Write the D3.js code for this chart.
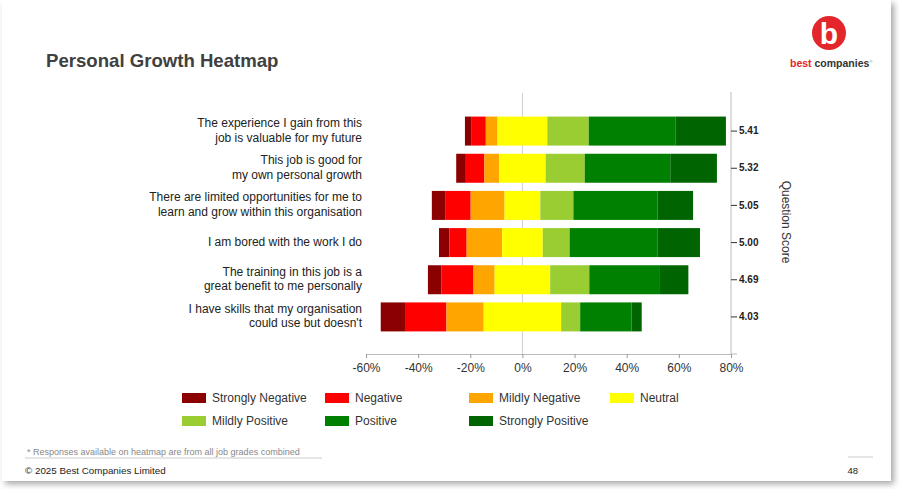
<!DOCTYPE html>
<html>
<head>
<meta charset="utf-8">
<script src="https://cdn.jsdelivr.net/npm/d3@7"></script>
<style>
  body { margin: 0; background: #fff; font-family: "Liberation Sans", Arial, sans-serif; }
  svg text { font-family: "Liberation Sans", Arial, sans-serif; }
</style>
</head>
<body>
<div id="chart"></div>
<script>
// chart data
var questions = [
  ["The experience I gain from this", "job is valuable for my future"],
  ["This job is good for", "my own personal growth"],
  ["There are limited opportunities for me to", "learn and grow within this organisation"],
  ["I am bored with the work I do"],
  ["The training in this job is a", "great benefit to me personally"],
  ["I have skills that my organisation", "could use but doesn't"]
];
var scores = ["5.41", "5.32", "5.05", "5.00", "4.69", "4.03"];
var categories = ["Strongly Negative", "Negative", "Mildly Negative", "Neutral",
                  "Mildly Positive", "Positive", "Strongly Positive"];
var colors = ["#8b0000", "#ff0000", "#ffa500", "#ffff00", "#9acd32", "#008000", "#006400"];

var stronglyNegative = [2.6, 3.7, 5.1, 4.0, 5.1, 9.3];
var negative         = [5.4, 7.1, 9.8, 6.6, 12.4, 15.9];
var mildlyNegative   = [4.5, 5.7, 13.0, 13.6, 8.1, 14.3];
var neutral          = [19.1, 17.8, 13.7, 15.6, 21.3, 29.7];
var mildlyPositive   = [15.9, 15.0, 12.7, 10.3, 15.0, 7.3];
var positive         = [33.2, 32.8, 32.3, 33.8, 27.1, 19.7];
var stronglyPositive = [19.4, 17.9, 13.6, 16.2, 10.9, 3.9];

var xTicks = [-60, -40, -20, 0, 20, 40, 60, 80];

var series = [stronglyNegative, negative, mildlyNegative, neutral,
              mildlyPositive, positive, stronglyPositive];

var svgWidth = 903, svgHeight = 489;

var svg = d3.select('#chart')
  .append('svg')
  .attr('width', svgWidth)
  .attr('height', svgHeight);

// slide background with shadow
var defs = svg.append('defs');
var f = defs.append('filter').attr('id', 'shadow')
  .attr('x', '-5%').attr('y', '-5%').attr('width', '115%').attr('height', '115%');
f.append('feDropShadow').attr('dx', 3).attr('dy', 3).attr('stdDeviation', 3)
  .attr('flood-color', '#000').attr('flood-opacity', 0.35);

svg.append('rect')
  .attr('x', 2).attr('y', 0).attr('width', 889).attr('height', 481)
  .attr('fill', '#fff')
  .attr('filter', 'url(#shadow)');

// title
svg.append('text')
  .attr('x', 46).attr('y', 67)
  .attr('font-size', 18.6).attr('font-weight', 'bold')
  .attr('fill', '#404040')
  .text('Personal Growth Heatmap');

// logo
var logo = svg.append('g');
logo.append('circle').attr('cx', 829).attr('cy', 33).attr('r', 17).attr('fill', '#e3262b');
logo.append('text').attr('x', 829).attr('y', 44).attr('text-anchor', 'middle')
  .attr('font-size', 30).attr('font-weight', 'bold').attr('fill', '#fff').text('b');
var lt = logo.append('text').attr('x', 790).attr('y', 67).attr('font-size', 10.5).attr('font-weight', 'bold');
lt.append('tspan').attr('fill', '#e3262b').text('best ');
lt.append('tspan').attr('fill', '#333').text('companies');
lt.append('tspan').attr('fill', '#999').attr('font-size', 4).attr('dy', -4).text('®');

// scales
var x = d3.scaleLinear().domain([-60, 80]).range([366, 731]);
var y = d3.scaleBand()
  .domain(d3.range(questions.length))
  .range([112.5, 335.5])
  .paddingInner(0.22)
  .paddingOuter(0.11);

var chartGroup = svg.append('g');

// zero line
chartGroup.append('line')
  .attr('x1', x(0)).attr('x2', x(0))
  .attr('y1', 93).attr('y2', 354)
  .attr('stroke', '#d0d0d0').attr('stroke-width', 1);

// build stacked segments, neutral centred on zero
var segs = [];
questions.forEach(function(q, i) {
  var start = -(stronglyNegative[i] + negative[i] + mildlyNegative[i] + neutral[i] / 2);
  series.forEach(function(s, k) {
    segs.push({ row: i, cat: k, x0: start, x1: start + s[i] });
    start += s[i];
  });
});

chartGroup.selectAll('rect.seg')
  .data(segs)
  .enter()
  .append('rect')
  .attr('class', 'seg')
  .attr('x', d => x(d.x0))
  .attr('y', d => y(d.row))
  .attr('width', d => x(d.x1) - x(d.x0))
  .attr('height', y.bandwidth())
  .attr('fill', d => colors[d.cat]);

// x axis
var bottomAxis = d3.axisBottom(x)
  .tickValues(xTicks)
  .tickSize(4)
  .tickFormat(d => d + '%');

var xg = chartGroup.append('g')
  .attr('transform', 'translate(0,354)')
  .call(bottomAxis);
xg.select('.domain').attr('stroke', '#bbb');
xg.selectAll('.tick line').attr('stroke', '#999');
xg.selectAll('.tick text').attr('font-size', 12).attr('fill', '#333').attr('dy', '0.9em');

// right axis with scores
var rightAxis = d3.axisRight(y)
  .tickSize(6)
  .tickSizeOuter(0)
  .tickFormat(i => scores[i]);

var rg = chartGroup.append('g')
  .attr('transform', 'translate(731,0)')
  .call(rightAxis);
rg.select('.domain').attr('d', 'M0,92V354H6').attr('stroke', '#bbb');
rg.selectAll('.tick line').attr('stroke', '#333');
rg.selectAll('.tick text')
  .attr('font-size', 10).attr('font-weight', 'bold').attr('fill', '#222').attr('x', 8);

chartGroup.append('text')
  .attr('transform', 'translate(782,222) rotate(90)')
  .attr('text-anchor', 'middle')
  .attr('font-size', 12).attr('fill', '#333')
  .text('Question Score');

// question labels
var qg = chartGroup.selectAll('text.q')
  .data(questions)
  .enter()
  .append('text')
  .attr('class', 'q')
  .attr('text-anchor', 'end')
  .attr('font-size', 12)
  .attr('fill', '#222')
  .attr('transform', (d, i) => 'translate(362,' + (y(i) + y.bandwidth() / 2 - 1) + ')');

qg.each(function(d) {
  var t = d3.select(this);
  var n = d.length;
  d.forEach(function(line, j) {
    t.append('tspan')
      .attr('x', 0)
      .attr('y', (j - (n - 1) / 2) * 14.5)
      .attr('dy', '0.35em')
      .text(line);
  });
});

// legend
var legendCols = [182, 325, 469, 610];
var legendRows = [398, 421];
var lg = svg.selectAll('g.legend')
  .data(categories)
  .enter()
  .append('g')
  .attr('class', 'legend')
  .attr('transform', (d, i) => 'translate(' + legendCols[i % 4] + ',' + legendRows[Math.floor(i / 4)] + ')');

lg.append('rect')
  .attr('x', 0).attr('y', -5)
  .attr('width', 24).attr('height', 10)
  .attr('fill', (d, i) => colors[i]);

lg.append('text')
  .attr('x', 30).attr('dy', '0.35em')
  .attr('font-size', 12).attr('fill', '#333')
  .text(d => d);

// footer
svg.append('text')
  .attr('x', 27).attr('y', 455)
  .attr('font-size', 9).attr('fill', '#888')
  .text('* Responses available on heatmap are from all job grades combined');
svg.append('line')
  .attr('x1', 25).attr('x2', 322).attr('y1', 458).attr('y2', 458)
  .attr('stroke', '#ccc');
svg.append('line')
  .attr('x1', 848).attr('x2', 873).attr('y1', 457).attr('y2', 457)
  .attr('stroke', '#ccc');
svg.append('text')
  .attr('x', 25).attr('y', 474)
  .attr('font-size', 9.8).attr('fill', '#222')
  .text('© 2025 Best Companies Limited');
svg.append('text')
  .attr('x', 858).attr('y', 474)
  .attr('text-anchor', 'end')
  .attr('font-size', 9.5).attr('fill', '#222')
  .text('48');
</script>
</body>
</html>
